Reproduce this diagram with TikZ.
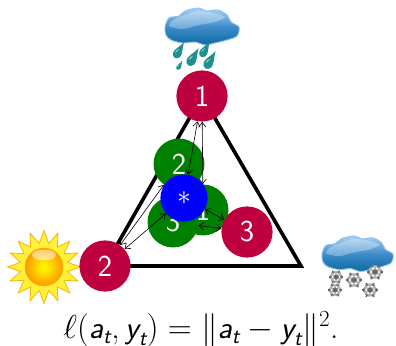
\documentclass[tikz,border=0pt]{standalone}
\usepackage{amsmath,amssymb}
\usepackage{sansmath}
\usepackage{xcolor}
\usetikzlibrary{arrows.meta}
\sansmath
\definecolor{berry}{HTML}{BE0040}
\definecolor{leaf}{HTML}{008000}
\definecolor{sky}{HTML}{0000FF}
\definecolor{cloudtop}{HTML}{A9D0F2}
\definecolor{cloudmid}{HTML}{3F8CCB}
\definecolor{cloudlow}{HTML}{0A6B9E}
\definecolor{cloudrim}{HTML}{8FC1F0}
\definecolor{rain}{HTML}{1F8F8F}
\definecolor{sunrim}{HTML}{F7B500}
\definecolor{sunray}{HTML}{FFF03A}
\newcommand{\svar}[1]{\text{\sffamily\itshape #1}}
\tikzset{fig/.style={x=0.75pt,y=-0.75pt,>={Straight Barb[length=3.6pt,width=5.4pt]}},
  ball/.style={circle,inner sep=0pt,text=white,font=\sffamily\fontsize{22.8}{27}\selectfont},
  vote/.style={ball,fill=berry,minimum size=38.4pt},
  guess/.style={ball,fill=leaf,minimum size=38.2pt},
  mean/.style={ball,fill=sky,minimum size=35.4pt},
  link/.style={<->,line width=0.45pt},
  edge/.style={line width=2.7pt}}
% cloud seen from the top left corner of its box
\newcommand{\wcloud}[3]{
  \begin{scope}[shift={(#1,#2)},scale=#3]
    \draw[cloudrim,line width=0.7pt,top color=cloudtop,bottom color=cloudlow,middle color=cloudmid]
      plot[smooth cycle] coordinates {(0,20)(4,11)(14,9)(20,4)(33,1)(42,4)(53,3)(62,8)(66,15)(74,20)(72,29)(62,33)(50,36)(40,38)(30,35)(18,36)(6,33)(1,28)};
    \fill[white,opacity=0.3] plot[smooth cycle] coordinates {(4,19)(10,12)(20,8)(33,4)(48,6)(60,10)(50,15)(34,18)(18,22)};
  \end{scope}}
\newcommand{\wdrop}[3]{
  \fill[rain,shift={(#1,#2)},scale=#3] (6,-11) .. controls (4,-4) and (5,1) .. (2,4) .. controls (-1,7) and (-6,5) .. (-5,0) .. controls (-4,-4) and (2,-6) .. (6,-11) -- cycle;
  \fill[rain!35,shift={(#1,#2)},scale=#3] (-3,0) .. controls (-3,-2) and (-1,-3) .. (1,-4) .. controls (0,-2) and (-2,-1) .. (-3,0) -- cycle;}
\newcommand{\wflake}[3]{
  \begin{scope}[shift={(#1,#2)},scale=#3]
    \fill[black!30] (0,0) circle (6.5);
    \foreach \a in {0,60,...,300}{
      \draw[black!60,line width=1pt] (0,0) -- (\a:8);
      \draw[black!55,line width=0.5pt] (\a:5) -- ++(\a+45:2.5) (\a:5) -- ++(\a-45:2.5);
      \fill[white] (\a:3.8) circle (1.3);}
  \end{scope}}

\begin{document}
\begin{tikzpicture}[fig]
  \useasboundingbox (0,0) rectangle (396,346);
  \coordinate (vtop) at (202,96);
  \coordinate (vleft) at (105,266);
  \coordinate (vright) at (301,266);
  % weather
  \wcloud{165}{7}{1}
  \wdrop{178}{53}{1}\wdrop{192}{60}{1.1}\wdrop{204}{52}{0.95}\wdrop{209}{63}{1.1}\wdrop{179}{67}{0.55}
  \wcloud{322}{235}{0.96}
  \wflake{336}{277}{0.9}\wflake{354}{280}{1.05}\wflake{375}{272}{1.05}\wflake{335}{290}{0.9}\wflake{370}{290}{1}
  \begin{scope}[shift={(44,267)}]
    \fill[sunray,draw=sunrim,line width=0.6pt]
      (90:36.5) \foreach \a in {90,112.5,...,427.5}{ -- (\a:36.5) -- (\a+11.25:24)} -- cycle;
    \shade[inner color=yellow,outer color=orange!80!yellow,draw=sunrim] (0,0) circle (19);
    \fill[white,opacity=0.5] (0,-12) ellipse (12 and 5.5);
  \end{scope}
  % simplex
  \draw[edge] (vtop) -- (vleft) -- (vright) -- cycle;
  \node[guess] (gone) at (203,210) {1};
  \node[guess] (gthree) at (173,222) {3};
  \node[guess] (gtwo) at (179,164) {2};
  \node[vote] (rone) at (vtop) {1};
  \node[vote] (rtwo) at (vleft) {2};
  \node[vote] (rthree) at (247,232) {3};
  \draw[link] (rone) -- (gone);
  \draw[link] (rtwo) -- (gtwo);
  \draw[link] (rthree) -- (gthree);
  \node[mean] (blue) at (184,198) {$*$};
  \draw[link] (rone) -- (blue);
  \draw[link] (rtwo) -- (blue);
  \draw[link] (rthree) -- (blue);
  \node[font=\fontsize{23.7}{28}\selectfont] (loss) at (201,329) {$\ell(\svar{a}_{\svar{t}},\svar{y}_{\svar{t}})=\|\svar{a}_{\svar{t}}-\svar{y}_{\svar{t}}\|^2.$};
\end{tikzpicture}
\end{document}
